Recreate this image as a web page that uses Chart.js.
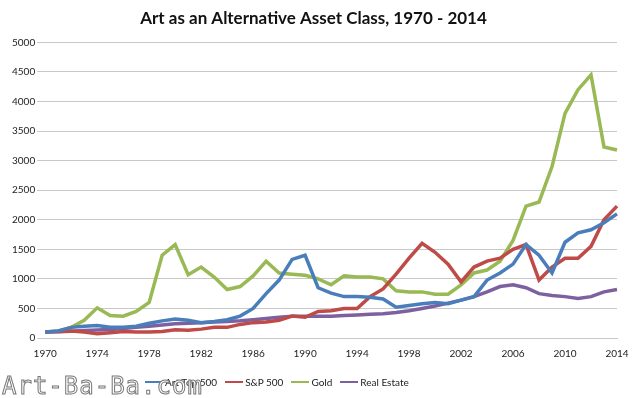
<!DOCTYPE html>
<html>
<head>
<meta charset="utf-8">
<script src="https://cdn.jsdelivr.net/npm/chart.js@4"></script>
<style>
  html, body { margin: 0; padding: 0; background: #fff; }
  #wrap { position: relative; width: 640px; height: 398px; }
  #mark {
    position: absolute; left: 2px; top: 372px;
    font: 24px "DejaVu Sans Mono", monospace; letter-spacing: 1px;
    color: #fff; -webkit-text-stroke: 1px #777;
  }
  #legend {
    position: absolute; left: 145px; top: 376px;
    font: 10px Lato, "Open Sans", sans-serif; color: #222;
    display: flex; align-items: center;
  }
  #legend span.item { display: flex; align-items: center; margin-right: 8px; }
  #legend span.sw { display: inline-block; width: 18px; height: 2px; margin-right: 2px; }
</style>
</head>
<body>
<div id="wrap">
  <canvas id="chart" width="640" height="398"></canvas>
  <div id="legend"></div>
  <div id="mark">Art-Ba-Ba.com</div>
</div>
<script>
// years 1970 - 2014
const years = [];
for (let y = 1970; y <= 2014; y++) years.push(String(y));

const yTicks = [0, 500, 1000, 1500, 2000, 2500, 3000, 3500, 4000, 4500, 5000];

const artTop500 = [100, 120, 180, 200, 210, 180, 180, 200, 250, 290,
  320, 300, 260, 280, 310, 370, 500, 750, 980, 1330,
  1400, 850, 760, 700, 700, 690, 660, 520, 550, 580,
  600, 580, 640, 700, 980, 1100, 1250, 1580, 1400, 1100,
  1620, 1780, 1830, 1950, 2100];

const sp500 = [100, 110, 120, 100, 70, 90, 110, 100, 100, 110,
  140, 130, 150, 180, 180, 230, 260, 270, 300, 370,
  350, 450, 460, 500, 500, 700, 830, 1080, 1350, 1600,
  1450, 1250, 950, 1200, 1300, 1350, 1500, 1580, 980, 1200,
  1350, 1350, 1550, 2000, 2230];

const gold = [100, 120, 180, 300, 510, 380, 370, 450, 600, 1400,
  1580, 1070, 1200, 1030, 820, 870, 1050, 1300, 1100, 1080,
  1060, 1000, 900, 1050, 1030, 1030, 1000, 800, 780, 780,
  740, 740, 900, 1100, 1150, 1300, 1650, 2230, 2300, 2900,
  3800, 4200, 4450, 3230, 3180];

const realEstate = [100, 105, 115, 125, 135, 145, 160, 180, 200, 220,
  240, 250, 260, 270, 280, 290, 310, 330, 350, 370,
  370, 370, 370, 380, 390, 400, 410, 430, 460, 500,
  540, 590, 640, 700, 780, 870, 900, 850, 750, 720,
  700, 670, 700, 780, 820];

const font = "Lato, 'Open Sans', sans-serif";

function series(label, data, color) {
  return {
    label: label,
    data: data,
    borderColor: color,
    backgroundColor: color,
    borderWidth: 3.5,
    pointRadius: 0,
    tension: 0,
    fill: false
  };
}

const chart = new Chart(document.getElementById("chart"), {
  type: "line",
  data: {
    labels: years,
    datasets: [
      series("Art Top 500", artTop500, "#4a7ebb"),
      series("S&P 500", sp500, "#be4b48"),
      series("Gold", gold, "#98b954"),
      series("Real Estate", realEstate, "#7d60a0")
    ]
  },
  options: {
    responsive: false,
    animation: false,
    layout: { padding: { left: 10, right: 23, top: 0, bottom: 36 } },
    plugins: {
      title: {
        display: true,
        text: "Art as an Alternative Asset Class, 1970 - 2014",
        color: "#111",
        font: { family: font, size: 17, weight: "bold" },
        padding: { top: 8, bottom: 14 }
      },
      legend: { display: false },
      tooltip: { enabled: false }
    },
    scales: {
      x: {
        offset: false,
        grid: { display: false },
        border: { color: "#c8c8c8" },
        ticks: {
          autoSkip: false,
          maxRotation: 0,
          color: "#222",
          font: { family: font, size: 10 },
          padding: 2,
          callback: function (v, i) { return i % 4 === 0 ? years[i] : ""; }
        }
      },
      y: {
        min: yTicks[0],
        max: yTicks[yTicks.length - 1],
        afterBuildTicks: function (axis) { axis.ticks = yTicks.map(v => ({ value: v })); },
        grid: { color: "#c8c8c8", lineWidth: 1, drawTicks: true, tickLength: 8 },
        border: { display: false },
        ticks: {
          color: "#222",
          font: { family: font, size: 10 },
          padding: 2,
          callback: function (v) { return String(v); }
        }
      }
    }
  }
});

// legend built from the chart's datasets
const legend = document.getElementById("legend");
chart.data.datasets.forEach(ds => {
  const item = document.createElement("span");
  item.className = "item";
  const sw = document.createElement("span");
  sw.className = "sw";
  sw.style.background = ds.borderColor;
  item.appendChild(sw);
  item.appendChild(document.createTextNode(ds.label));
  legend.appendChild(item);
});
</script>
</body>
</html>
